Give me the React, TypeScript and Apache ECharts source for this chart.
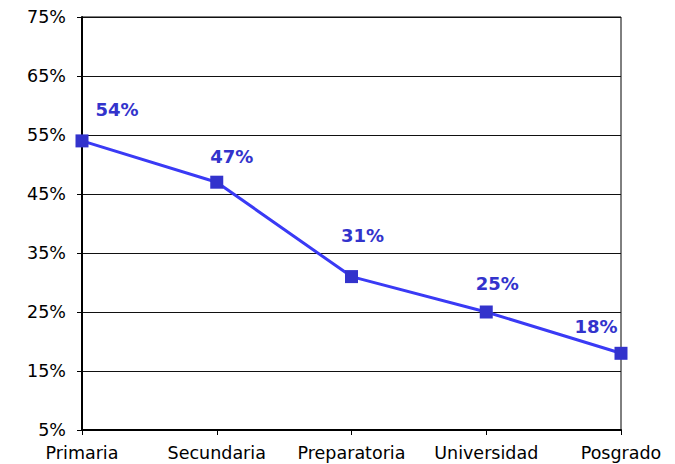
import React, { useEffect, useRef } from "react";
import * as echarts from "echarts";

const categories = ["Primaria", "Secundaria", "Preparatoria", "Universidad", "Posgrado"];
const values = [54, 47, 31, 25, 18];
const yMin = 5;
const yMax = 75;
const yStep = 10;

export default function App() {
  const ref = useRef<HTMLDivElement>(null);
  useEffect(() => {
    if (!ref.current) return;
    const chart = echarts.init(ref.current, null, { renderer: "svg" });
    const labelOffsets = [
      [35, -31],
      [15, -26],
      [11, -41],
      [11, -29],
      [-25, -27],
    ];
    chart.setOption({
      animation: false,
      backgroundColor: "#ffffff",
      grid: {
        left: 82,
        right: 54,
        top: 17,
        bottom: 34,
        show: true,
        borderColor: "#000000",
        borderWidth: 1,
      },
      xAxis: {
        type: "category",
        data: categories,
        boundaryGap: false,
        axisLine: { lineStyle: { color: "#000000", width: 2 } },
        axisTick: { show: true, inside: false, length: 5, lineStyle: { color: "#000000", width: 1 } },
        axisLabel: {
          color: "#000000",
          fontFamily: "DejaVu Sans",
          fontSize: 17.5,
          margin: 14,
          interval: 0,
        },
        splitLine: { show: false },
      },
      yAxis: {
        type: "value",
        min: yMin,
        max: yMax,
        interval: yStep,
        axisLine: { show: true, lineStyle: { color: "#000000", width: 2 } },
        axisTick: { show: true, inside: false, length: 5, lineStyle: { color: "#000000", width: 1 } },
        axisLabel: {
          color: "#000000",
          fontFamily: "DejaVu Sans",
          fontSize: 17.5,
          margin: 16,
          formatter: (v: number) => v + "%",
        },
        splitLine: { show: true, lineStyle: { color: "#111111", width: 1 } },
      },
      series: [
        {
          type: "line",
          data: values.map((v, i) => ({
            value: v,
            label: { offset: labelOffsets[i] },
          })),
          symbol: "rect",
          symbolSize: 13,
          itemStyle: { color: "#3333CC" },
          lineStyle: { color: "#3A3AF5", width: 3 },
          label: {
            show: true,
            position: "inside",
            formatter: (p: any) => p.value + "%",
            color: "#3333CC",
            fontFamily: "DejaVu Sans",
            fontWeight: "bold",
            fontSize: 18,
          },
        },
      ],
    });
    return () => chart.dispose();
  }, []);
  return <div ref={ref} style={{ width: 675, height: 464, position: "absolute", left: 0, top: 0 }} />;
}
